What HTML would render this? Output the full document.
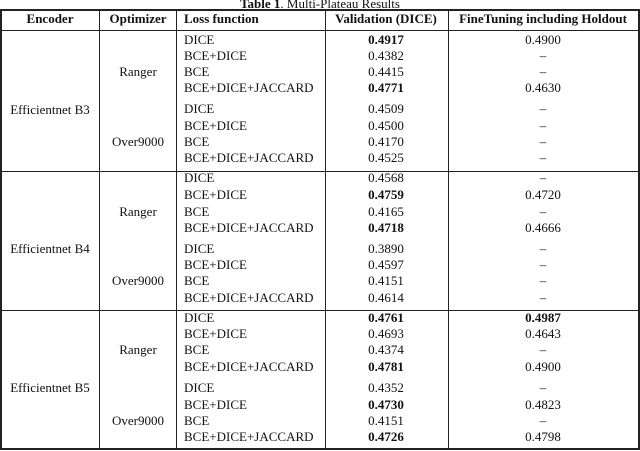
<!DOCTYPE html>
<html><head><style>
body{margin:0;width:640px;height:451px;background:#fff;position:relative;overflow:hidden;font-family:"Liberation Serif",serif;font-size:13px;color:#111}
.t{position:absolute;white-space:nowrap;line-height:14px}
.c{transform:translateX(-50%)}
.b{font-weight:bold}
.h{position:absolute;height:1px;background:#222}
.v{position:absolute;width:1px;background:#222}
</style></head><body>
<div class="t c" style="left:320px;top:-3px"><b>Table 1</b>. Multi-Plateau Results</div>
<div class="h" style="left:0;width:640px;top:9px;height:2px"></div>
<div class="h" style="left:0;width:640px;top:30px"></div>
<div class="h" style="left:0;width:640px;top:171px"></div>
<div class="h" style="left:0;width:640px;top:310px"></div>
<div class="h" style="left:0;width:640px;top:448px;height:2px"></div>
<div class="v" style="left:0;top:9px;height:441px;width:2px"></div>
<div class="v" style="left:99px;top:9px;height:441px"></div>
<div class="v" style="left:176px;top:9px;height:441px"></div>
<div class="v" style="left:325px;top:9px;height:441px"></div>
<div class="v" style="left:448px;top:9px;height:441px"></div>
<div class="v" style="left:638px;top:9px;height:441px;width:2px"></div>
<div class="t c b" style="left:50px;top:12px">Encoder</div>
<div class="t c b" style="left:138px;top:12px">Optimizer</div>
<div class="t b" style="left:184px;top:12px">Loss function</div>
<div class="t c b" style="left:386px;top:12px">Validation (DICE)</div>
<div class="t c b" style="left:543px;top:12px">FineTuning including Holdout</div>
<div id="rows"></div>
<script>
var secs=[
 {enc:"Efficientnet B3",y:[40,56,72,88,109,126,142,158],ey:110,
  val:[["0.4917",1],["0.4382"],["0.4415"],["0.4771",1],["0.4509"],["0.4500"],["0.4170"],["0.4525"]],
  ft:[["0.4900"],["–"],["–"],["0.4630"],["–"],["–"],["–"],["–"]]},
 {enc:"Efficientnet B4",y:[178,195,212,228,249,265,281,298],ey:249,
  val:[["0.4568"],["0.4759",1],["0.4165"],["0.4718",1],["0.3890"],["0.4597"],["0.4151"],["0.4614"]],
  ft:[["–"],["0.4720"],["–"],["0.4666"],["–"],["–"],["–"],["–"]]},
 {enc:"Efficientnet B5",y:[318,334,350,367,388,405,421,437],ey:388,
  val:[["0.4761",1],["0.4693"],["0.4374"],["0.4781",1],["0.4352"],["0.4730",1],["0.4151"],["0.4726",1]],
  ft:[["0.4987",1],["0.4643"],["–"],["0.4900"],["–"],["0.4823"],["–"],["0.4798"]]}
];
var L=["DICE","BCE+DICE","BCE","BCE+DICE+JACCARD"];
var h="";
function t(x,y,s,cls){h+='<div class="t '+cls+'" style="left:'+x+'px;top:'+(y-7)+'px">'+s+'</div>';}
secs.forEach(function(s){
 t(50,s.ey,s.enc,"c");
 t(138,s.y[2],"Ranger","c");
 t(138,s.y[6],"Over9000","c");
 for(var i=0;i<8;i++){
  t(184,s.y[i],L[i%4],"");
  t(386,s.y[i],s.val[i][0],"c"+(s.val[i][1]?" b":""));
  t(543,s.y[i],s.ft[i][0],"c"+(s.ft[i][1]?" b":""));
 }
});
document.getElementById("rows").innerHTML=h;
</script>
</body></html>
